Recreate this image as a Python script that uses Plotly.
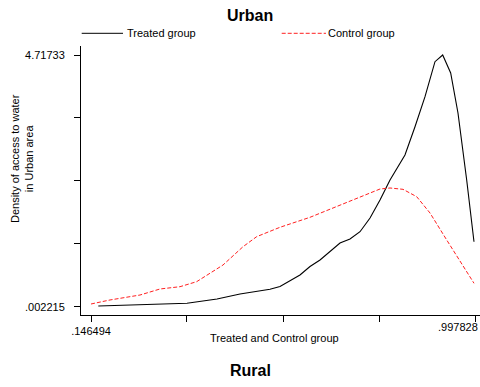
import plotly.graph_objects as go

# Treated group (urban) density
treated_x = [0.1627, 0.2618, 0.2995, 0.3593, 0.4259, 0.4768, 0.5433, 0.5655, 0.6098, 0.6320,
             0.6542, 0.6985, 0.7207, 0.7429, 0.7651, 0.7872, 0.8094, 0.8426, 0.8648, 0.8870,
             0.9091, 0.9262, 0.9439, 0.9601, 0.9794, 0.9956]
treated_y = [0.0153, 0.0341, 0.0528, 0.0659, 0.1465, 0.240, 0.328, 0.380, 0.596, 0.755,
             0.877, 1.195, 1.270, 1.407, 1.664, 2.001, 2.376, 2.844, 3.374, 3.936,
             4.592, 4.717, 4.380, 3.631, 2.376, 1.220]

# Control group (urban) density
control_x = [0.1465, 0.1886, 0.2551, 0.2995, 0.3438, 0.3808, 0.4391, 0.4835, 0.5138, 0.5655,
             0.6320, 0.6985, 0.7429, 0.7872, 0.8094, 0.8382, 0.8686, 0.8981, 0.9351, 0.9646,
             0.9956]
control_y = [0.0528, 0.128, 0.221, 0.334, 0.377, 0.471, 0.783, 1.126, 1.314, 1.490,
             1.677, 1.907, 2.063, 2.207, 2.226, 2.201, 2.063, 1.757, 1.252, 0.845,
             0.441]

x_ticks = [0.146494, 0.3592775, 0.572161, 0.7850445, 0.997828]
x_tick_labels = [".146494", "", "", "", ""]
x_last_label = ".997828"
y_ticks = [0.002215, 1.18099, 2.359773, 3.538551, 4.71733]
y_tick_labels = [".002215", "", "", "", "4.71733"]

FONT = "Liberation Sans, Arial, sans-serif"

fig = go.Figure()
fig.add_trace(go.Scatter(x=treated_x, y=treated_y, mode="lines",
                         line=dict(color="black", width=1.1), name="Treated group"))
fig.add_trace(go.Scatter(x=control_x, y=control_y, mode="lines",
                         line=dict(color="#ff2020", width=1, dash="4px,2px"), name="Control group"))

fig.update_layout(
    width=480, height=387,
    margin=dict(l=81, r=0, t=46, b=72),
    paper_bgcolor="white", plot_bgcolor="white",
    showlegend=False,
    font=dict(family=FONT, size=11, color="black"),
    xaxis=dict(range=[0.12432, 1.00891], tickvals=x_ticks, ticktext=x_tick_labels,
               showgrid=False, zeroline=False, showline=True, linecolor="black", linewidth=1,
               ticks="outside", ticklen=6, tickcolor="black", tickwidth=1),
    yaxis=dict(range=[-0.1533, 4.8859], tickvals=y_ticks, ticktext=y_tick_labels,
               showgrid=False, zeroline=False, showline=True, linecolor="black", linewidth=1,
               ticks="outside", ticklen=6, tickcolor="black", tickwidth=1,
               ticklabelstandoff=7),
)

ann = [
    dict(text="<b>Urban</b>", x=0.4236, y=1.1152, font=dict(size=16)),
    dict(text="<b>Rural</b>", x=0.4236, y=-0.207, font=dict(size=16)),
    dict(text="Treated and Control group", x=0.4862, y=-0.0855, font=dict(size=11)),
    dict(text="Density of access to water<br>in Urban area", x=-0.1479, y=0.5836,
         textangle=-90, font=dict(size=11)),
    dict(text="Treated group", x=0.1103, y=1.0472, xanchor="left", font=dict(size=11)),
    dict(text="Control group", x=0.614, y=1.0472, xanchor="left", font=dict(size=11)),
    dict(text=x_last_label, x=0.9449, y=-0.0446, font=dict(size=11)),
]
for a in ann:
    a.setdefault("xanchor", "center")
    fig.add_annotation(xref="paper", yref="paper", showarrow=False, yanchor="middle", **a)

fig.add_shape(type="line", xref="paper", yref="paper", x0=0.00175, x1=0.1053, y0=1.0472, y1=1.0472,
              line=dict(color="black", width=1))
fig.add_shape(type="line", xref="paper", yref="paper", x0=0.503, x1=0.614, y0=1.0472, y1=1.0472,
              line=dict(color="#ff2020", width=1, dash="4px,2px"))

fig.write_html("out.html")
